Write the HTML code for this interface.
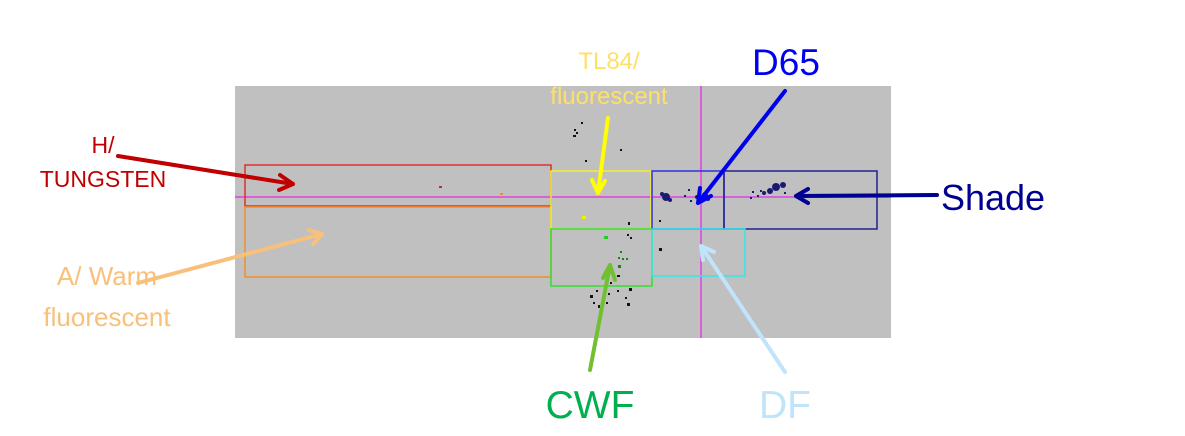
<!DOCTYPE html>
<html><head><meta charset="utf-8"><style>body{margin:0;background:#fff}svg{display:block}text{font-family:"Liberation Sans",Arial,sans-serif}</style></head><body>
<svg width="1185" height="436" viewBox="0 0 1185 436" xmlns="http://www.w3.org/2000/svg">
<rect x="235" y="86" width="656" height="252" fill="#c0c0c0"/>
<line x1="235" y1="197" x2="891" y2="197" stroke="#e040e0" stroke-width="1.5"/>
<line x1="701" y1="86" x2="701" y2="338" stroke="#e040e0" stroke-width="1.5"/>
<g fill="none" stroke-width="1.5">
<rect x="245" y="165" width="306" height="41" stroke="#e03030"/>
<rect x="245" y="207" width="306" height="70" stroke="#f0902a"/>
<rect x="551" y="171" width="100" height="58" stroke="#f0f030"/>
<rect x="551" y="229" width="101" height="57" stroke="#30e030"/>
<rect x="652" y="171" width="72" height="58" stroke="#3030e0"/>
<rect x="724" y="171" width="153" height="58" stroke="#202090"/>
<rect x="652" y="229" width="93" height="47" stroke="#30e8e8"/>
</g>
<g fill="#111">
<rect x="573" y="135" width="3" height="2"/><rect x="576" y="132" width="2" height="2"/><rect x="581" y="122" width="2" height="2"/><rect x="574" y="129" width="2" height="2"/><rect x="620" y="149" width="2" height="2"/><rect x="585" y="160" width="2" height="2"/>
<rect x="628" y="222" width="2" height="3"/><rect x="627" y="234" width="2" height="2"/><rect x="630" y="237" width="2" height="2"/><rect x="659" y="248" width="3" height="3"/><rect x="659" y="220" width="2" height="2"/>
<rect x="590" y="295" width="3" height="3"/><rect x="596" y="290" width="2" height="2"/><rect x="602" y="296" width="2" height="3"/><rect x="608" y="293" width="2" height="2"/><rect x="617" y="290" width="2" height="2"/><rect x="629" y="288" width="3" height="3"/><rect x="625" y="297" width="2" height="2"/><rect x="598" y="305" width="2" height="3"/><rect x="606" y="302" width="2" height="2"/><rect x="627" y="303" width="3" height="3"/><rect x="593" y="302" width="2" height="2"/><rect x="610" y="282" width="2" height="2"/><rect x="617" y="275" width="3" height="2"/>
</g>
<g fill="#1a1a70">
<circle cx="666" cy="197" r="4"/><circle cx="662" cy="194" r="2"/><circle cx="670" cy="200" r="2"/>
<circle cx="705" cy="195" r="3"/><circle cx="697" cy="197" r="2"/><circle cx="708" cy="199" r="2"/><rect x="684" y="195" width="2" height="2"/><rect x="690" y="200" width="2" height="2"/><rect x="688" y="189" width="2" height="2"/>
<circle cx="776" cy="187" r="4"/><circle cx="783" cy="185" r="3"/><circle cx="770" cy="191" r="3"/><circle cx="764" cy="193" r="2"/><rect x="757" y="195" width="2" height="2"/><rect x="750" y="197" width="2" height="2"/><rect x="760" y="190" width="2" height="2"/><rect x="784" y="192" width="2" height="2"/><rect x="752" y="191" width="2" height="2"/>
</g>
<rect x="439" y="186" width="3" height="2" fill="#e02020"/>
<rect x="500" y="193" width="3" height="2" fill="#f09030"/>
<rect x="582" y="216" width="4" height="3" fill="#f0f000"/>
<rect x="604" y="236" width="4" height="3" fill="#20d020"/>
<g fill="#208020"><rect x="620" y="251" width="2" height="2"/><rect x="622" y="258" width="2" height="2"/><rect x="626" y="258" width="2" height="2"/><rect x="618" y="257" width="2" height="2"/><rect x="618" y="265" width="3" height="3"/></g>
<g stroke-width="4" fill="none" stroke-linecap="round" stroke-linejoin="round">
<path d="M118 156 L293 184 M280 175 L293 184 L279 190" stroke="#c00000"/>
<path d="M138 283 L322 234 M309 230 L322 234 L313 244" stroke="#f8c07a"/>
<path d="M608 118 L598 193 M592 180 L598 193 L605 181" stroke="#ffff00"/>
<path d="M785 91 L698 203 M700 188 L698 203 L711 196" stroke="#0000f0"/>
<path d="M937 195 L796 196 M808 189 L796 196 L808 203" stroke="#000090"/>
<path d="M590 370 L610 265 M603 278 L610 265 L615 280" stroke="#70c030"/>
<path d="M785 372 L701 246 M703 260 L701 246 L714 252" stroke="#c0e4fa"/>
</g>
<g text-anchor="middle">
<text x="103" y="153" font-size="23" fill="#c00000">H/</text>
<text x="103" y="187" font-size="23" fill="#c00000">TUNGSTEN</text>
<text x="107" y="285" font-size="26" fill="#f8c07a">A/ Warm</text>
<text x="107" y="326" font-size="26" fill="#f8c07a">fluorescent</text>
<text x="609" y="69" font-size="24" fill="#ffe066">TL84/</text>
<text x="609" y="104" font-size="24" fill="#ffe066">fluorescent</text>
<text x="786" y="75" font-size="37" fill="#0000f0">D65</text>
<text x="993" y="210" font-size="36" fill="#000090">Shade</text>
<text x="590" y="418" font-size="39" fill="#00b050">CWF</text>
<text x="785" y="418" font-size="39" fill="#c0e4fa">DF</text>
</g>
</svg>
</body></html>
